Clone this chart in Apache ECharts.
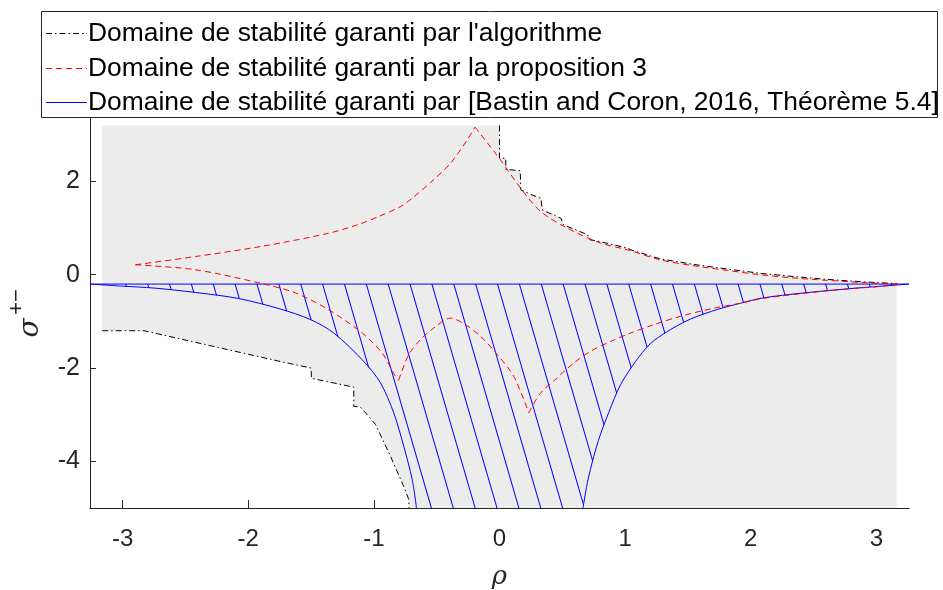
<!DOCTYPE html>
<html><head><meta charset="utf-8">
<script src="https://cdn.jsdelivr.net/npm/echarts@6/dist/echarts.min.js"></script>
<style>html,body{margin:0;padding:0;background:#fff}#c{width:943px;height:590px}</style>
</head><body><div id="c"></div>
<script>
// ---- data ----
const xTicks = [-3, -2, -1, 0, 1, 2, 3];
const yTicks = [-4, -2, 0, 2];
const xRange = [-3.26, 3.26];
const yRange = [-5, 3.36];
const xLabel = 'ρ';
const yLabelMain = 'σ';
const yLabelSup = '+−';
const legendNames = [
  "Domaine de stabilité garanti par l'algorithme",
  "Domaine de stabilité garanti par la proposition 3",
  "Domaine de stabilité garanti par [Bastin and Coron, 2016, Théorème 5.4]"
];
// grey region (algorithm) bounds
const greyLeft = -3.163, greyRight = 3.163, greyTop = 3.2;
const blackUpper = [[0.0,3.2],[0.0,2.5],[0.05,2.5],[0.05,2.26],[0.165,2.23],[0.17,1.82],[0.25,1.72],[0.33,1.64],[0.34,1.39],[0.49,1.21],[0.51,1.07],[0.70,0.86],[0.72,0.75],[0.80,0.71],[1.02,0.57],[1.05,0.53],[1.28,0.34],[1.55,0.22],[1.82,0.12],[2.08,0.03],[2.35,-0.04],[2.61,-0.10],[2.88,-0.15],[3.163,-0.19]];
const blackLower = [[-3.163,-1.2],[-2.83,-1.2],[-2.155,-1.61],[-1.744,-1.86],[-1.5,-2.0],[-1.497,-2.22],[-1.16,-2.41],[-1.16,-2.82],[-1.107,-2.84],[-1.04,-3.04],[-0.987,-3.21],[-0.868,-3.89],[-0.762,-4.54],[-0.722,-4.82],[-0.72,-5.0]];
// proposition 3 (red dashed), split at its cusps
const redUpperLeft = [[-2.898,0.214],[-2.42,0.39],[-1.89,0.61],[-1.36,0.89],[-1.12,1.08],[-0.96,1.25],[-0.788,1.46],[-0.695,1.64],[-0.523,2.04],[-0.39,2.39],[-0.257,2.89],[-0.195,3.165]];
const redUpperRight = [[-0.195,3.165],[0.008,2.46],[0.167,1.86],[0.326,1.36],[0.539,1.0],[0.804,0.68],[1.017,0.536],[1.28,0.32],[1.547,0.193],[1.813,0.093],[2.078,0.0],[2.343,-0.07],[2.609,-0.12],[2.874,-0.164],[3.17,-0.205]];
const redLowerA = [[-2.898,0.214],[-2.42,0.107],[-1.89,-0.19],[-1.624,-0.39],[-1.36,-0.75],[-1.093,-1.25],[-0.934,-1.68],[-0.828,-2.18],[-0.803,-2.26]];
const redLowerB = [[-0.803,-2.26],[-0.722,-1.71],[-0.629,-1.39],[-0.523,-1.14],[-0.39,-0.93],[-0.271,-1.07],[-0.151,-1.32],[-0.018,-1.71],[0.114,-2.18],[0.233,-2.96]];
const redLowerC = [[0.233,-2.96],[0.326,-2.54],[0.459,-2.21],[0.592,-1.89],[0.725,-1.64],[0.884,-1.43],[1.043,-1.25],[1.229,-1.07],[1.441,-0.89],[1.7,-0.72],[1.92,-0.61],[2.09,-0.51],[2.42,-0.40],[2.74,-0.31],[3.06,-0.245],[3.17,-0.205]];
// Bastin & Coron (blue)
const blueFlat = [[-3.26,-0.2],[3.26,-0.2]];
const blueLeft = [[-3.26,-0.2],[-3.0,-0.245],[-2.75,-0.285],[-2.42,-0.38],[-2.076,-0.51],[-1.744,-0.735],[-1.505,-0.96],[-1.319,-1.25],[-1.08,-1.86],[-0.947,-2.32],[-0.842,-2.96],[-0.762,-3.68],[-0.695,-4.39],[-0.661,-5.0]];
const blueRight = [[0.665,-5.0],[0.70,-4.45],[0.75,-3.9],[0.80,-3.45],[0.87,-2.95],[0.963,-2.36],[1.083,-1.86],[1.20,-1.48],[1.34,-1.21],[1.52,-0.95],[1.74,-0.74],[1.92,-0.61],[2.09,-0.5],[2.42,-0.39],[2.74,-0.31],[3.06,-0.24],[3.26,-0.2]];

// ---- build ----
const greyPolygon = [[greyLeft, greyTop]]
  .concat(blackUpper)
  .concat([[greyRight, blackUpper[blackUpper.length-1][1]], [greyRight, yRange[0]]])
  .concat(blackLower.slice().reverse());
const hatchArea = blueLeft.concat(blueRight);

const AX = '#262626';
const FONT = '"Liberation Sans", Arial, sans-serif';
const LEG_FONT = '26.4px ' + FONT;
const dashDot = [6, 3, 1.5, 3];
const dash = [6, 4];
function curve(data, color, type, z, smooth) {
  return {type: 'line', data: data, symbol: 'none', z: z, silent: true,
          smooth: smooth || false,
          lineStyle: {color: color, width: 1, type: type}};
}
const chart = echarts.init(document.getElementById('c'), null, {renderer: 'canvas'});
chart.setOption({
  animation: false,
  backgroundColor: '#fff',
  grid: {left: 90, right: 34, top: 118, bottom: 82, containLabel: false, outerBoundsMode: 'none'},
  xAxis: {
    type: 'value', min: xRange[0], max: xRange[1],
    name: xLabel, nameLocation: 'middle', nameGap: 56,
    nameTextStyle: {fontSize: 26, fontStyle: 'italic', color: AX, fontFamily: '"DejaVu Serif", serif'},
    axisLine: {show: true, onZero: false, lineStyle: {color: AX, width: 1}},
    axisTick: {show: true, inside: true, length: 8, customValues: xTicks, lineStyle: {color: AX}},
    axisLabel: {customValues: xTicks, fontSize: 24, color: AX, fontFamily: FONT, margin: 19},
    splitLine: {show: false}
  },
  yAxis: {
    type: 'value', min: yRange[0], max: yRange[1],
    axisLine: {show: true, onZero: false, lineStyle: {color: AX, width: 1}},
    axisTick: {show: true, inside: true, length: 6, customValues: yTicks, lineStyle: {color: AX}},
    axisLabel: {customValues: yTicks, fontSize: 25, color: AX, fontFamily: FONT, margin: 10},
    splitLine: {show: false}
  },
  series: [
    {
      type: 'custom', silent: true, z: 1, clip: true,
      data: [[0, 0]],
      renderItem: function (params, api) {
        const pts = greyPolygon.map(p => api.coord(p));
        return {type: 'polygon', shape: {points: pts}, style: {fill: '#ececec'}};
      }
    },
    {
      type: 'line', data: hatchArea, symbol: 'none', z: 2, silent: true,
      lineStyle: {width: 0, opacity: 0},
      areaStyle: {color: 'rgba(0,0,0,0)', origin: -0.2, opacity: 1},
      itemStyle: {
        color: '#0000ff',
        decal: {symbol: 'rect', symbolSize: 1, color: '#0000ff', backgroundColor: 'rgba(0,0,0,0)',
                dashArrayX: [1, 0], dashArrayY: [1, 19.1], rotation: 1.288}
      }
    },
    curve(blueFlat, '#0000ff', 'solid', 3),
    curve(blueLeft, '#0000ff', 'solid', 3, 0.3),
    curve(blueRight, '#0000ff', 'solid', 3, 0.3),
    curve(blackUpper, '#000', dashDot, 4),
    curve(blackLower, '#000', dashDot, 4),
    curve(redUpperLeft, '#ff0000', dash, 5, 0.3),
    curve(redUpperRight, '#ff0000', dash, 5, 0.3),
    curve(redLowerA, '#ff0000', dash, 5, 0.3),
    curve(redLowerB, '#ff0000', dash, 5, 0.3),
    curve(redLowerC, '#ff0000', dash, 5, 0.3)
  ],
  graphic: [
    {type: 'rect', z: 100, shape: {x: 41.5, y: 11.5, width: 896, height: 106}, style: {fill: '#fff', stroke: AX, lineWidth: 1}},
    {type: 'line', z: 101, shape: {x1: 46, y1: 33.5, x2: 87, y2: 33.5}, style: {stroke: '#000', lineWidth: 1, lineDash: dashDot}},
    {type: 'line', z: 101, shape: {x1: 46, y1: 68.5, x2: 87, y2: 68.5}, style: {stroke: '#ff0000', lineWidth: 1, lineDash: dash}},
    {type: 'line', z: 101, shape: {x1: 46, y1: 102.5, x2: 87, y2: 102.5}, style: {stroke: '#0000ff', lineWidth: 1}},
    {type: 'text', z: 101, x: 88, y: 34, style: {text: legendNames[0], font: LEG_FONT, fill: '#000', verticalAlign: 'middle'}},
    {type: 'text', z: 101, x: 88, y: 69, style: {text: legendNames[1], font: LEG_FONT, fill: '#000', verticalAlign: 'middle'}},
    {type: 'text', z: 101, x: 88, y: 103, style: {text: legendNames[2], font: LEG_FONT, fill: '#000', verticalAlign: 'middle'}},
    {type: 'text', z: 101, x: 31, y: 328, rotation: Math.PI / 2, style: {text: yLabelMain, font: 'italic 28px "DejaVu Serif", serif', fill: AX, align: 'center', verticalAlign: 'middle'}},
    {type: 'text', z: 101, x: 17, y: 302, rotation: Math.PI / 2, style: {text: yLabelSup, font: '22px ' + FONT, fill: AX, align: 'center', verticalAlign: 'middle'}}
  ]
});
</script>
</body></html>
